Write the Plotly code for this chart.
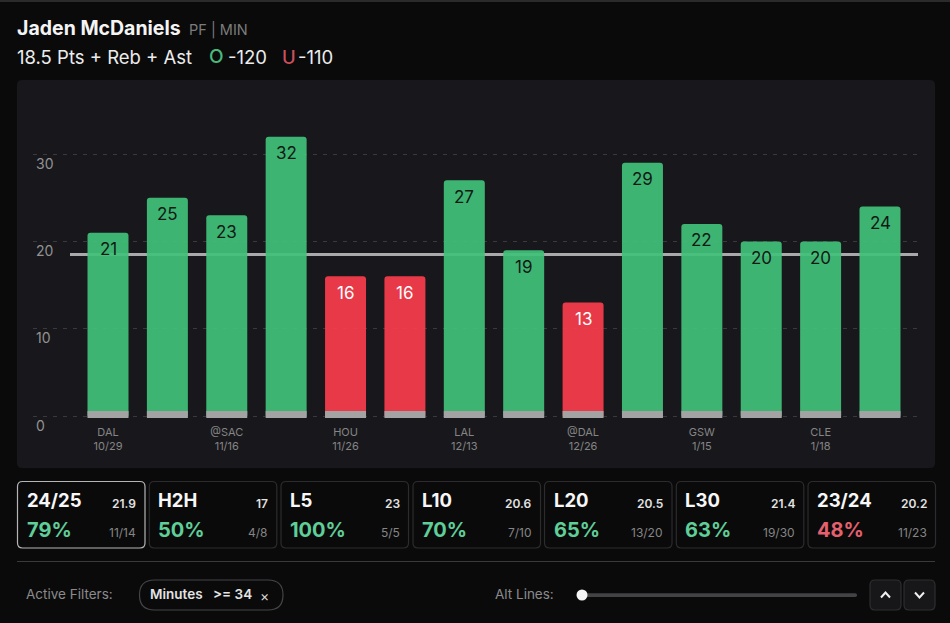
import plotly.graph_objects as go

W, H = 950, 623
games = ["DAL 10/29", "g2", "@SAC 11/16", "g4", "HOU 11/26", "g6", "LAL 12/13", "g8",
         "@DAL 12/26", "g10", "GSW 1/15", "g12", "CLE 1/18", "g14"]
values = [21, 25, 23, 32, 16, 16, 27, 19, 13, 29, 22, 20, 20, 24]
tick_labels = ["DAL<br>10/29", "", "@SAC<br>11/16", "", "HOU<br>11/26", "", "LAL<br>12/13", "",
               "@DAL<br>12/26", "", "GSW<br>1/15", "", "CLE<br>1/18", ""]
prop_line = 18.5
y_ticks = [0, 10, 20, 30]
card_names = ["24/25", "H2H", "L5", "L10", "L20", "L30", "23/24"]
card_avgs = ["21.9", "17", "23", "20.6", "20.5", "21.4", "20.2"]
card_pcts = ["79%", "50%", "100%", "70%", "65%", "63%", "48%"]
card_fracs = ["11/14", "4/8", "5/5", "7/10", "13/20", "19/30", "11/23"]

GREEN, RED, GRAY = "rgba(66,193,122,0.93)", "rgba(248,60,74,0.93)", "#a3a3a3"
FONT = "Inter"
PX_L, PX_R, PX_T, PX_B = 33, 918, 80, 418
STEP = (880 - 108) / 13
PXU = 8.73
BOTTOM = -2 / PXU


def fx(p):
    return p / W


def fy(p):
    return 1 - p / H


def rr(x0, y0, x1, y1, r):
    X = fx
    Y = fy
    return (f"M{X(x0+r)},{Y(y0)} L{X(x1-r)},{Y(y0)} Q{X(x1)},{Y(y0)} {X(x1)},{Y(y0+r)} "
            f"L{X(x1)},{Y(y1-r)} Q{X(x1)},{Y(y1)} {X(x1-r)},{Y(y1)} L{X(x0+r)},{Y(y1)} "
            f"Q{X(x0)},{Y(y1)} {X(x0)},{Y(y1-r)} L{X(x0)},{Y(y0+r)} Q{X(x0)},{Y(y0)} {X(x0+r)},{Y(y0)} Z")


shapes = []
annos = []


def box(x0, y0, x1, y1, r, fill="rgba(0,0,0,0)", line="rgba(0,0,0,0)", lw=1.2):
    shapes.append(dict(type="path", xref="paper", yref="paper", path=rr(x0, y0, x1, y1, r),
                       fillcolor=fill, line=dict(color=line, width=lw), layer="below"))


def text(x, y, s, size, color, anchor="left", weight=400, family=FONT):
    annos.append(dict(xref="paper", yref="paper", x=fx(x), y=fy(y), text=s, showarrow=False,
                      xanchor=anchor, yanchor="middle", align=anchor,
                      font=dict(size=size, color=color, family=family, weight=weight),
                      borderpad=0, borderwidth=0))


# panel
shapes.append(dict(type="rect", xref="paper", yref="paper", x0=0, x1=1, y0=fy(2), y1=1,
                   fillcolor="#2b2b2b", line_width=0, layer="below"))
box(17, 80, 935, 468, 5, fill="#18181c")

# header
text(17, 28, "Jaden McDaniels", 19.5, "#f4f4f4", weight=700)
text(189, 29.5, "PF | MIN", 14.5, "#7c7c7c")
text(17, 57, "18.5 Pts + Reb + Ast", 18.5, "#ececec")
text(228, 57, "-120", 18.5, "#ececec")
text(298, 57, "-110", 18.5, "#ececec")
text(216, 57, "O", 19, "#49b87a", "center", 500)
text(289, 57, "U", 18.5, "#c9505c", "center", 500)

# cards
card_x = [17.5, 149.3, 281, 413, 544.5, 676.3, 808]
for i, name in enumerate(card_names):
    x0 = card_x[i]
    x1 = x0 + 127.5
    box(x0, 481.5, x1, 548, 5, fill="#0a0a0b", line="#b5b5b5" if i == 0 else "#2c2c2e")
    text(x0 + 9, 500, name, 18.5, "#f7f7f7", weight=700)
    text(x1 - 9, 503, card_avgs[i], 12, "#e2e2e2", "right", 600)
    pct_col = "#e4606d" if int(card_pcts[i][:-1]) < 50 else "#5fce98"
    text(x0 + 9, 530, card_pcts[i], 20, pct_col, weight=700)
    text(x1 - 9, 532, card_fracs[i], 12, "#858585", "right")

# footer
shapes.append(dict(type="line", xref="paper", yref="paper", x0=fx(17), x1=fx(935), y0=fy(561.5), y1=fy(561.5),
                   line=dict(color="#3a3a3a", width=1), layer="below"))
text(26, 594, "Active Filters:", 13.5, "#8b8b8b")
box(139.5, 580, 283, 610, 15, line="#454548")
text(150, 594, "Minutes", 13.5, "#e4e4e4", weight=600)
text(213, 594, "&gt;= 34", 13.5, "#e4e4e4", weight=600)
text(260, 595, "×", 14, "#d8d8d8")
text(495, 594, "Alt Lines:", 13.5, "#8b8b8b")
box(582, 593.3, 857, 597, 1.8, fill="#434345")
shapes.append(dict(type="circle", xref="paper", yref="paper", x0=fx(576.5), x1=fx(587.5), y0=fy(600.5), y1=fy(589.5),
                   fillcolor="#f5f5f5", line_width=0, layer="above"))
box(870, 580, 901, 610, 5, fill="#17171a", line="#2e2e30")
box(904, 580, 935, 610, 5, fill="#17171a", line="#2e2e30")
for cx, sign in ((885.5, -1), (919.5, 1)):
    cy = 595
    p = (f"M{fx(cx-4.5)},{fy(cy-sign*2.5)} L{fx(cx)},{fy(cy+sign*2.5)} L{fx(cx+4.5)},{fy(cy-sign*2.5)}")
    shapes.append(dict(type="path", xref="paper", yref="paper", path=p,
                       line=dict(color="#f0f0f0", width=2), layer="above"))

idx = list(range(len(values)))
bar_cols = [GREEN if v > prop_line else RED for v in values]

fig = go.Figure()
fig.add_bar(x=idx, y=[v - BOTTOM for v in values], base=BOTTOM, marker=dict(color=bar_cols, cornerradius=3, line_width=0),
            width=0.69, showlegend=False, hoverinfo="skip")
fig.add_bar(x=idx, y=[0.8] * len(values), base=BOTTOM, marker=dict(color=GRAY, line_width=0),
            width=0.69, showlegend=False, hoverinfo="skip")

# prop line, behind the slightly translucent bars
shapes.append(dict(type="line", xref="paper", yref="y", x0=fx(70), x1=fx(918), y0=prop_line, y1=prop_line,
                   line=dict(color="#a9a9ac", width=3), layer="below"))

for i, v in enumerate(values):
    annos.append(dict(x=i, y=v, yshift=-16.5, text=str(v), showarrow=False, yanchor="middle",
                      font=dict(size=17, family=FONT, color="#ffffff" if v < prop_line else "#0f1a14")))

fig.update_layout(
    width=W, height=H, margin=dict(l=0, r=0, t=0, b=0), autosize=False,
    paper_bgcolor="#0a0a0b", plot_bgcolor="rgba(0,0,0,0)",
    barmode="overlay", shapes=shapes, annotations=annos,
    font=dict(family=FONT),
    xaxis=dict(domain=[fx(PX_L), fx(PX_R)], range=[(PX_L - 108) / STEP, (PX_R - 108) / STEP],
               tickmode="array", tickvals=idx, ticktext=tick_labels, showgrid=False, zeroline=False,
               showline=False, ticks="", tickangle=0, ticklabelstandoff=6, automargin=False,
               tickfont=dict(size=11, color="#858585", family=FONT), fixedrange=True),
    yaxis=dict(domain=[fy(PX_B), fy(PX_T)], range=[BOTTOM, (416 - PX_T) / PXU],
               tickmode="array", tickvals=y_ticks, ticktext=[str(t) for t in y_ticks],
               showgrid=True, gridcolor="#3a3a3e", griddash="4px,6px", gridwidth=1, zeroline=False,
               showline=False, ticks="", ticklabelposition="inside bottom", ticklabeloverflow="allow",
               automargin=False,
               tickfont=dict(size=14, color="#929292", family=FONT), fixedrange=True),
)
fig.write_html("out.html", config=dict(displayModeBar=False),
               post_script="document.body.style.margin='0';document.body.style.background='#0a0a0b';")
